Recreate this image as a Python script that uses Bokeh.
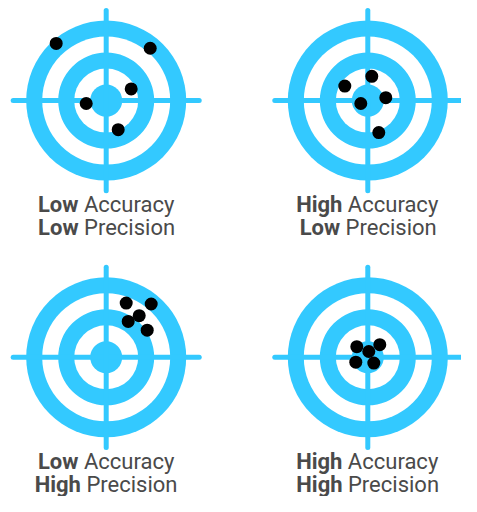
from bokeh.plotting import figure
from bokeh.models import Range1d
from bokeh.core.properties import value
from bokeh.embed import file_html
from bokeh.resources import INLINE

# ---- data ----
accuracy = ["Low", "High", "Low", "High"]
precision = ["Low", "Low", "High", "High"]

# shot offsets from the bull's-eye (px-like units, x right, y up)
shots_dx_1 = [-50, 44, 25, -20, 12]
shots_dy_1 = [59, 54, 12, -3, -30]
shots_dx_2 = [-23, 4, 18, -7, 11]
shots_dy_2 = [15, 25, 3, -3, -33]
shots_dx_3 = [20, 45, 33, 22, 41]
shots_dy_3 = [56, 55, 43, 37, 28]
shots_dx_4 = [-11, 12, 1, -12, 6]
shots_dy_4 = [11, 13, 6, -5, -6]

shots_dx = [shots_dx_1, shots_dx_2, shots_dx_3, shots_dx_4]
shots_dy = [shots_dy_1, shots_dy_2, shots_dy_3, shots_dy_4]

ring_count = [5, 4, 3, 2, 1]

# ---- style / layout ----
BLUE = "#33C9FF"
TXT = "#4A4A4A"
RING_W = 16
CROSS = 93
FONT = "Roboto"
FS = 22

W, H = 461, 496
p = figure(width=W, height=H, output_backend="svg", toolbar_location=None,
           x_range=Range1d(6, 6 + W), y_range=Range1d(512, 0),
           x_axis_location=None, y_axis_location=None, min_border=0,
           background_fill_color="white", border_fill_color="white")
p.grid.visible = False
p.outline_line_color = None

centers = [(111.7, 103.3), (373.3, 103.3), (111.7, 368.3), (373.3, 368.3)]

# approximate Roboto advance widths (em)
BOLD = {"L": .537, "o": .565, "w": .752, "H": .697, "i": .26, "g": .56, "h": .552}
REG = {"A": .652, "c": .523, "u": .552, "r": .338, "a": .544, "y": .474,
       "P": .631, "e": .528, "s": .516, "i": .237, "o": .557, "n": .552}
SPACE = .248


def draw_line(cx, y, bold_word, reg_word):
    wb = sum(BOLD[c] for c in bold_word) * FS
    wr = sum(REG[c] for c in reg_word) * FS
    gap = SPACE * FS
    left = cx - (wb + gap + wr) / 2
    split = left + wb
    p.text(x=[split], y=[y], text=[bold_word], text_font=value(FONT),
           text_font_size=f"{FS}px", text_font_style="bold", text_color=TXT,
           text_align="right", text_baseline="middle")
    p.text(x=[split + gap], y=[y], text=[reg_word], text_font=value(FONT),
           text_font_size=f"{FS}px", text_color=TXT,
           text_align="left", text_baseline="middle")


for i, (cx, cy) in enumerate(centers):
    for k, n in enumerate(ring_count):
        p.circle(x=[cx], y=[cy], radius=n * RING_W,
                 fill_color=BLUE if k % 2 == 0 else "white", line_color=None)
    p.segment(x0=[cx - CROSS, cx], y0=[cy, cy - CROSS],
              x1=[cx + CROSS, cx], y1=[cy, cy + CROSS],
              line_color=BLUE, line_width=5, line_cap="round")
    xs = [cx + d for d in shots_dx[i]]
    ys = [cy - d for d in shots_dy[i]]
    p.circle(x=xs, y=ys, radius=6.5, fill_color="black", line_color=None)
    draw_line(cx, cy + 107.7, accuracy[i], "Accuracy")
    draw_line(cx, cy + 131.2, precision[i], "Precision")

open("out.html", "w").write(file_html(p, INLINE))
